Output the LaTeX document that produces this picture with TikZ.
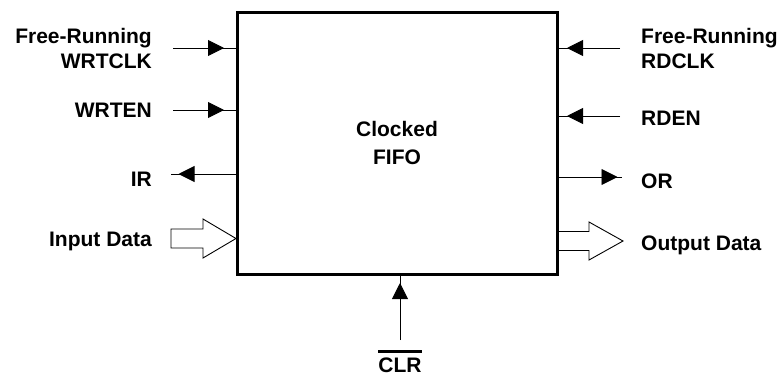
\documentclass[tikz,border=0pt]{standalone}
\usepackage{fontspec}
\setmainfont{Liberation Sans}
\usetikzlibrary{arrows.meta,decorations.markings}
\begin{document}
\begin{tikzpicture}[x=1pt,y=-1pt,
  lbl/.style={font=\fontsize{21}{25}\selectfont\bfseries, inner sep=0pt},
  sig/.style={line width=0.9pt, draw=black},
  tipat/.style={postaction={decorate,decoration={markings,mark=at position #1 with {\arrow{Triangle[length=16pt,width=16pt]}}}}},
  bus/.style={draw=black, line width=0.9pt, fill=white, line join=miter}]
\useasboundingbox (0,0) rectangle (781,375);
% hollow bus arrows (drawn before the box)
\draw[bus] (171,229) -- (203,229) -- (203,219) -- (236,238.5) -- (203,258) -- (203,248) -- (171,248) -- cycle;
\draw[bus] (557,231.5) -- (589,231.5) -- (589,222) -- (623,241) -- (589,260) -- (589,250.5) -- (557,250.5);
% box
\node[draw, line width=3pt, minimum width=320pt, minimum height=262pt, inner sep=0pt,
      font=\fontsize{21}{28}\selectfont\bfseries, align=center] (fifo) at (397,143) {Clocked\\FIFO};
% labels
\node[lbl, anchor=base east, align=right] (wclk) at (152,68) {Free-Running\\WRTCLK};
\node[lbl, anchor=base east] (wen) at (152,117) {WRTEN};
\node[lbl, anchor=base east] (ir) at (152,186) {IR};
\node[lbl, anchor=base east] (ind) at (152,246) {Input Data};
\node[lbl, anchor=base west, align=left] (rclk) at (641,68) {Free-Running\\RDCLK};
\node[lbl, anchor=base west] (ren) at (641,125) {RDEN};
\node[lbl, anchor=base west] (or) at (641,188) {OR};
\node[lbl, anchor=base west] (outd) at (641,250) {Output Data};
\node[lbl, anchor=base] (clr) at (400,372) {CLR};
\draw[line width=2.4pt] ([yshift=5.5pt]clr.north west) -- ([yshift=5.5pt]clr.north east);
% free ends
\coordinate (wclkin) at (173,48);
\coordinate (wenin) at (173,110);
\coordinate (irout) at (171,174);
\coordinate (rclkin) at (620,48);
\coordinate (renin) at (620,116);
\coordinate (orout) at (622,177);
\coordinate (clrin) at (400,340);
% signal lines
\draw[sig, tipat=51pt] (wclkin) -- (wclkin -| fifo.west);
\draw[sig, tipat=51pt] (wenin) -- (wenin -| fifo.west);
\draw[sig, tipat=57pt] (irout -| fifo.west) -- (irout);
\draw[sig, tipat=53pt] (rclkin) -- (rclkin -| fifo.east);
\draw[sig, tipat=53pt] (renin) -- (renin -| fifo.east);
\draw[sig, tipat=59pt] (orout -| fifo.east) -- (orout);
\draw[sig, tipat=57pt] (clrin) -- (clrin |- fifo.south);
\end{tikzpicture}
\end{document}
